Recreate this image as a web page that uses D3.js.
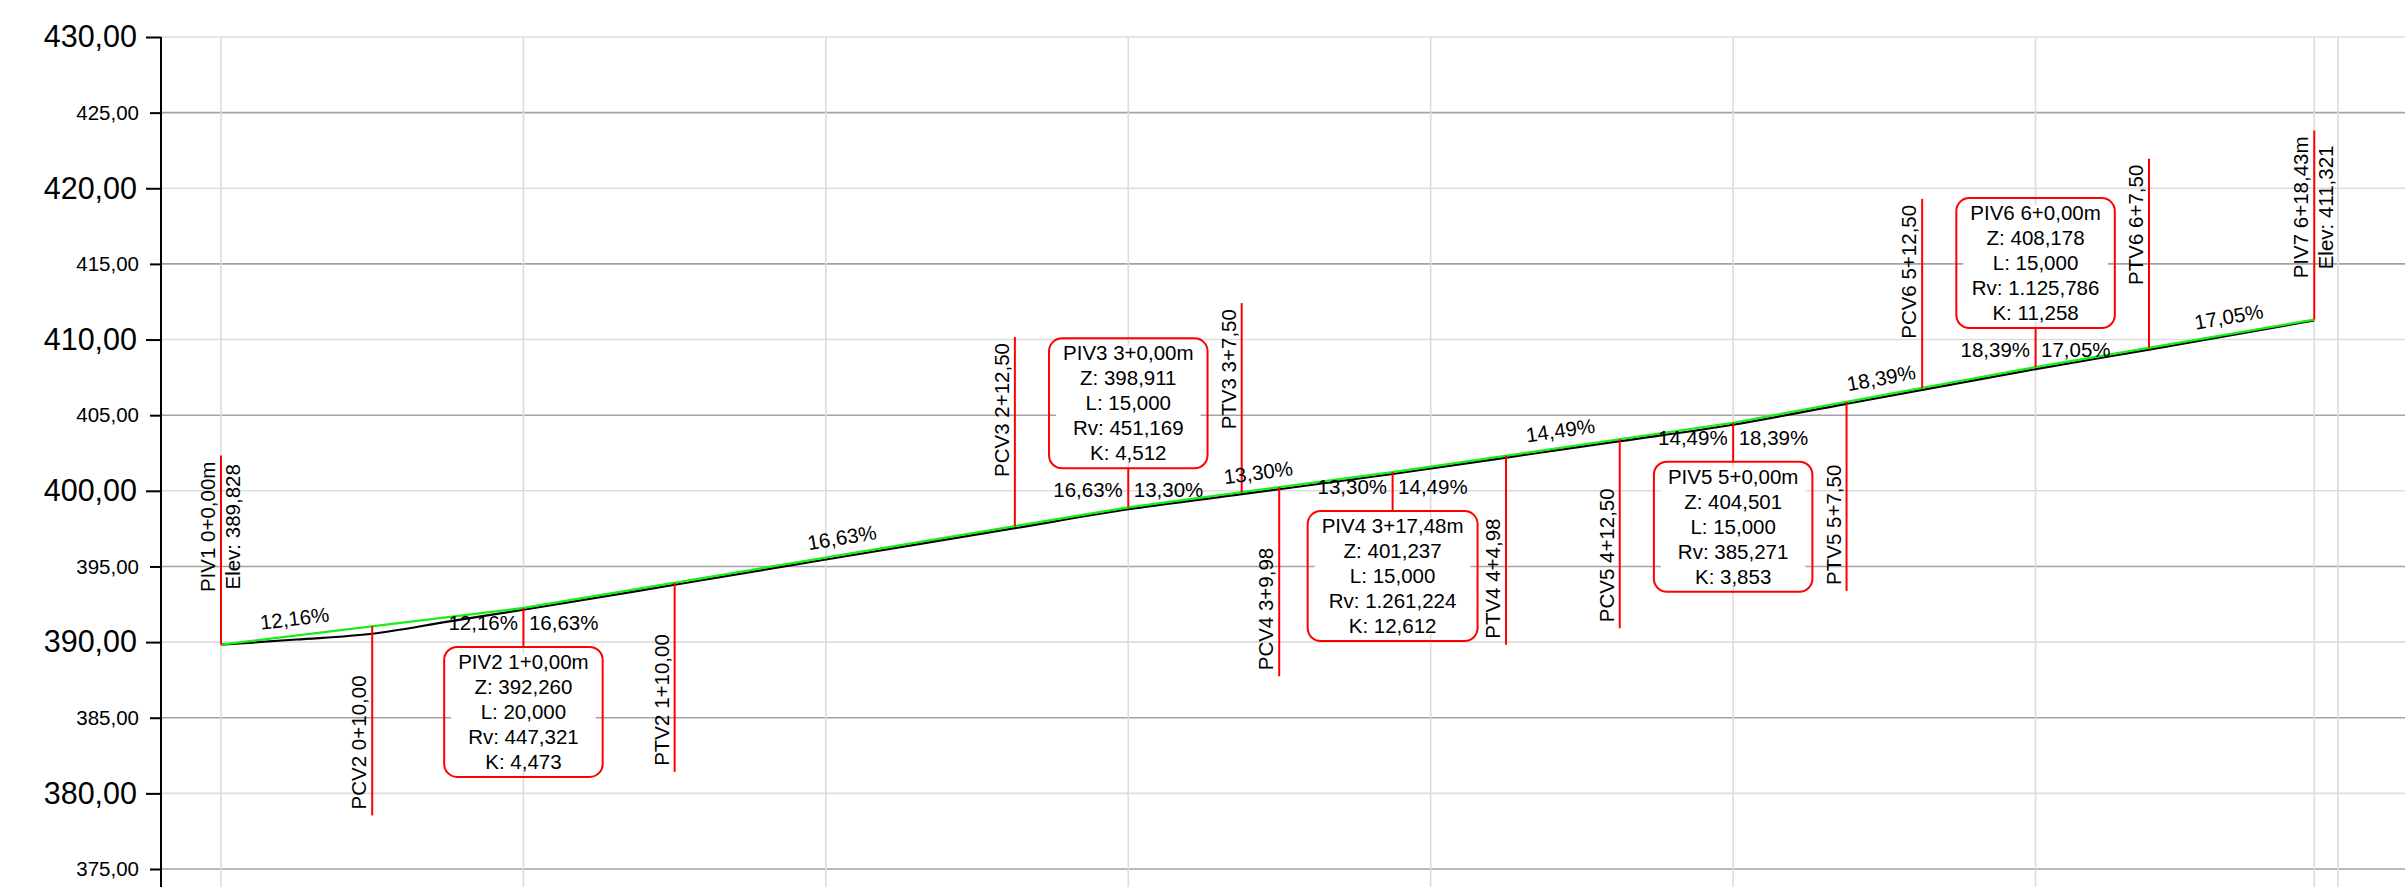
<!DOCTYPE html>
<html>
<head>
<meta charset="utf-8">
<script src="https://cdn.jsdelivr.net/npm/d3@7"></script>
<style>
  html, body { margin: 0; padding: 0; background: #fff; }
  svg { display: block; font-family: "Liberation Sans", Arial, sans-serif; }
</style>
</head>
<body>
<svg id="perfil"></svg>
<script>
  /* Data */
  // PIV (vertices of the grade line)
  var pivNames = ["PIV1", "PIV2", "PIV3", "PIV4", "PIV5", "PIV6", "PIV7"];
  var pivStation = [0, 20, 60, 77.48, 100, 120, 138.43];
  var pivElev = [389.828, 392.260, 398.911, 401.237, 404.501, 408.178, 411.321];

  // vertical curves at PIV2..PIV6
  var curveLen = [20, 15, 15, 15, 15];
  var curveRv = [447.321, 451.169, 1261.224, 385.271, 1125.786];
  var curveK = [4.473, 4.512, 12.612, 3.853, 11.258];
  var pcvStation = [10, 52.5, 69.98, 92.5, 112.5];
  var pcvElev = [391.044, 397.664, 400.239, 403.414, 406.799];
  var ptvStation = [30, 67.5, 84.98, 107.5, 127.5];
  var ptvElev = [393.923, 399.909, 402.324, 405.880, 409.457];

  // grades of each tangent (%)
  var grades = [12.16, 16.63, 13.30, 14.49, 18.39, 17.05];

  // black profile line
  var terrainStation = [0, 5, 10, 15, 20, 30, 40, 52.5, 60, 67.5, 77.48, 85, 92.5, 100, 107.5, 112.5, 120, 127.5, 138.43];
  var terrainElev = [389.828, 390.17, 390.55, 391.35, 392.14, 393.79, 395.46, 397.53, 398.78, 399.78, 401.11, 402.20, 403.28, 404.37, 405.75, 406.67, 408.05, 409.33, 411.26];

  // axis / grid
  var elevTicks = [375, 380, 385, 390, 395, 400, 405, 410, 415, 420, 425, 430];
  var stationGrid = [0, 20, 40, 60, 80, 100, 120, 138.43, 140];

  /* SVG properties */
  var width = 2405;
  var height = 887;
  var markLen = 12.5;   // length of the red marker lines, in metres of elevation

  var locale = d3.formatLocale({ decimal: ",", thousands: ".", grouping: [3], currency: ["", ""] });
  var fmt2 = locale.format(".2f");
  var fmt3 = locale.format(",.3f");
  function stationText(s) {
    var k = Math.floor(s / 20 + 1e-9);
    return k + "+" + fmt2(s - 20 * k);
  }

  var x = d3.scaleLinear().domain([0, 140]).range([221, 2338]);
  var y = d3.scaleLinear().domain([375, 430]).range([869, 37]);
  var axisX = 161;

  var svg = d3.select("#perfil").attr("width", width).attr("height", height);

  /* grid */
  svg.append("g").selectAll("line")
     .data(elevTicks).enter().append("line")
     .attr("x1", axisX).attr("x2", width)
     .attr("y1", function(d) { return y(d); })
     .attr("y2", function(d) { return y(d); })
     .attr("stroke", function(d) { return d % 10 === 0 ? "#dddddd" : "#a3a3a3"; })
     .attr("stroke-width", 1.6);
  svg.append("g").selectAll("line")
     .data(stationGrid).enter().append("line")
     .attr("x1", function(d) { return x(d); })
     .attr("x2", function(d) { return x(d); })
     .attr("y1", y(430)).attr("y2", height)
     .attr("stroke", "#dddddd")
     .attr("stroke-width", 1.6);

  /* y axis */
  var yAxis = svg.append("g")
     .attr("transform", "translate(" + axisX + ",0)")
     .call(d3.axisLeft(y).tickValues(elevTicks).tickFormat(locale.format(".2f")).tickSizeOuter(0));
  yAxis.select(".domain").remove();
  yAxis.append("line").attr("x1", 0).attr("x2", 0).attr("y1", y(430)).attr("y2", height)
       .attr("stroke", "#000").attr("stroke-width", 2);
  yAxis.selectAll(".tick line")
       .attr("stroke", "#000").attr("stroke-width", 2)
       .attr("x2", function(d) { return d % 10 === 0 ? -15 : -11; });
  yAxis.selectAll(".tick text")
       .attr("fill", "#000")
       .attr("font-family", "Liberation Sans, Arial, sans-serif")
       .attr("font-size", function(d) { return d % 10 === 0 ? 30.5 : 20.5; })
       .attr("x", function(d) { return d % 10 === 0 ? -24 : -22; });

  /* profile lines */
  var terrainPts = terrainStation.map(function(s, i) { return [s, terrainElev[i]]; });
  var gradePts = pivStation.map(function(s, i) { return [s, pivElev[i]]; });

  svg.append("path").datum(terrainPts)
     .attr("d", d3.line().curve(d3.curveMonotoneX)
                  .x(function(d) { return x(d[0]); }).y(function(d) { return y(d[1]); }))
     .attr("fill", "none").attr("stroke", "#000").attr("stroke-width", 2.2);
  svg.append("path").datum(gradePts)
     .attr("d", d3.line().x(function(d) { return x(d[0]); }).y(function(d) { return y(d[1]); }))
     .attr("fill", "none").attr("stroke", "#14f014").attr("stroke-width", 2.2);

  var fontSize = 20.5;
  var red = "#ff0000";
  var marks = svg.append("g");
  var boxes = svg.append("g");
  var texts = svg.append("g").attr("font-size", fontSize).attr("fill", "#000");

  /* red vertical markers with rotated text */
  var markers = [];
  markers.push({ s: pivStation[0], z: pivElev[0], up: true,
                 lines: [pivNames[0] + " " + stationText(pivStation[0]) + "m", "Elev: " + fmt3(pivElev[0])] });
  for (var i = 0; i < 5; i++) {
    var sag = grades[i + 1] > grades[i];
    var n = pivNames[i + 1].slice(3);
    markers.push({ s: pcvStation[i], z: pcvElev[i], up: !sag, lines: ["PCV" + n + " " + stationText(pcvStation[i])] });
    markers.push({ s: ptvStation[i], z: ptvElev[i], up: !sag, lines: ["PTV" + n + " " + stationText(ptvStation[i])] });
  }
  markers.push({ s: pivStation[6], z: pivElev[6], up: true,
                 lines: [pivNames[6] + " " + stationText(pivStation[6]) + "m", "Elev: " + fmt3(pivElev[6])] });

  markers.forEach(function(m) {
    var far = m.up ? m.z + markLen : m.z - markLen;
    marks.append("line")
         .attr("x1", x(m.s)).attr("x2", x(m.s))
         .attr("y1", y(m.z)).attr("y2", y(far))
         .attr("stroke", red).attr("stroke-width", 2);
    var els = m.lines.map(function(t) {
      return texts.append("text").attr("text-anchor", "middle").text(t);
    });
    var w = d3.max(els, function(e) { return e.node().getComputedTextLength(); });
    var yc = m.up ? y(far) + 6 + w / 2 : y(far) - 6 - w / 2;
    els.forEach(function(e, j) {
      var bx = x(m.s) - 6 + 25 * j;
      e.attr("transform", "translate(" + bx + "," + yc + ") rotate(-90)");
    });
  });

  /* PIV boxes */
  for (var k = 0; k < 5; k++) {
    var p = k + 1;
    var px = x(pivStation[p]), py = y(pivElev[p]);
    var isSag = grades[p] > grades[p - 1];
    var boxLines = [
      pivNames[p] + " " + stationText(pivStation[p]) + "m",
      "Z: " + fmt3(pivElev[p]),
      "L: " + fmt3(curveLen[k]),
      "Rv: " + fmt3(curveRv[k]),
      "K: " + fmt3(curveK[k])
    ];
    var boxH = 130;
    var boxTop = isSag ? py + 39 : py - 39 - boxH;
    var box = boxes.append("g");
    var inner = box.append("rect");
    var tEls = boxLines.map(function(t, j) {
      return box.append("text").attr("text-anchor", "middle")
                .attr("x", px).attr("y", boxTop + 22 + 25 * j)
                .attr("font-size", fontSize).attr("fill", "#000").text(t);
    });
    var boxW = d3.max(tEls, function(e) { return e.node().getComputedTextLength(); }) + 28;
    inner.attr("x", px - boxW / 2 + 7).attr("y", boxTop + 7)
         .attr("width", boxW - 14).attr("height", boxH - 14).attr("fill", "#fff");
    box.append("rect")
       .attr("x", px - boxW / 2).attr("y", boxTop)
       .attr("width", boxW).attr("height", boxH).attr("rx", 13).attr("ry", 13)
       .attr("fill", "none").attr("stroke", red).attr("stroke-width", 2);
    marks.append("line")
         .attr("x1", px).attr("x2", px)
         .attr("y1", py).attr("y2", isSag ? boxTop : boxTop + boxH)
         .attr("stroke", red).attr("stroke-width", 2);

    var gy = isSag ? py + 22 : py - 10;
    texts.append("text").attr("x", px - 5.5).attr("y", gy).attr("text-anchor", "end")
         .text(fmt2(grades[p - 1]) + "%");
    texts.append("text").attr("x", px + 5.5).attr("y", gy).attr("text-anchor", "start")
         .text(fmt2(grades[p]) + "%");
  }

  /* grade labels along the tangents */
  for (var t = 0; t < 6; t++) {
    var s0 = t === 0 ? pivStation[0] : ptvStation[t - 1];
    var s1 = t === 5 ? pivStation[6] : pcvStation[t];
    var sm = (s0 + s1) / 2;
    var zm = pivElev[t] + (sm - pivStation[t]) * (pivElev[t + 1] - pivElev[t]) / (pivStation[t + 1] - pivStation[t]);
    var ang = Math.atan2(y(pivElev[t]) - y(pivElev[t + 1]), x(pivStation[t + 1]) - x(pivStation[t])) * 180 / Math.PI;
    texts.append("text")
         .attr("text-anchor", "middle")
         .attr("transform", "translate(" + x(sm) + "," + y(zm) + ") rotate(" + (-ang) + ")")
         .attr("y", -10)
         .text(fmt2(grades[t]) + "%");
  }
</script>
</body>
</html>
